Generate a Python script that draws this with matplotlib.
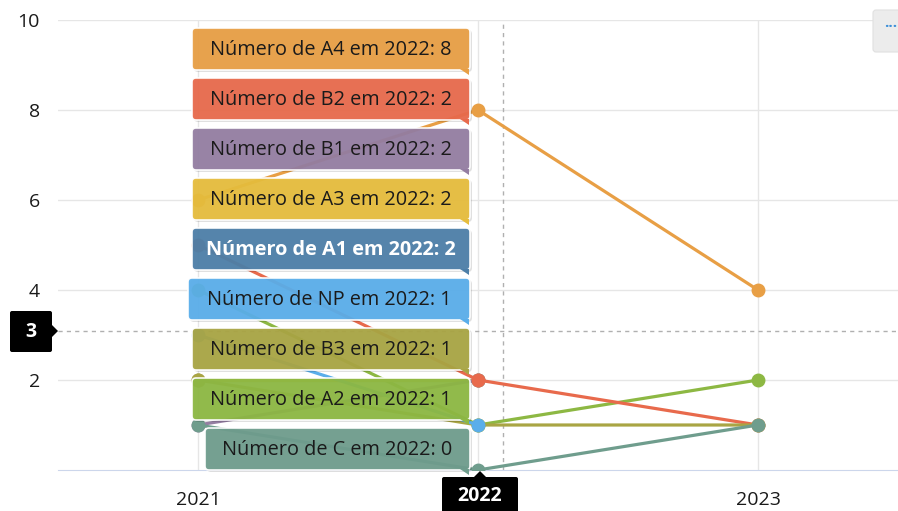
import matplotlib
matplotlib.use("Agg")
import matplotlib.pyplot as plt
from matplotlib.patches import FancyBboxPatch, Polygon

plt.rcParams["font.family"] = ["Open Sans", "DejaVu Sans"]

# ── Data ────────────────────────────────────────────────────────────────────
YEARS = ["2021", "2022", "2023"]
A1 = [2, 2, None]
A2 = [4, 1, 2]
A3 = [2, 2, None]
A4 = [6, 8, 4]
B1 = [1, 2, None]
B2 = [5, 2, 1]
B3 = [2, 1, 1]
C = [1, 0, 1]
NP = [3, 1, None]

SERIES_NAMES = ["A1", "A2", "A3", "A4", "B1", "B2", "B3", "C", "NP"]
SERIES_VALUES = [A1, A2, A3, A4, B1, B2, B3, C, NP]
SERIES_COLORS = ["#4d7fa8", "#8db843", "#e6bd3d", "#e89f45", "#947ea2",
                 "#e86a4c", "#a9a544", "#6f9d8d", "#5aaeea"]

TOOLTIP_ORDER = ["A4", "B2", "B1", "A3", "A1", "NP", "B3", "A2", "C"]
HOVER_IDX = 1
CROSSHAIR_X = 1.09
CROSSHAIR_Y = 3.09

W, H = 898, 511
fig = plt.figure(figsize=(W / 100, H / 100), dpi=100)
ax = fig.add_axes([58 / W, (H - 470) / H, (W - 58) / W, 450 / H])
T = fig.dpi_scale_trans


def inch(x, y):
    return x / 100, (H - y) / 100


x = list(range(len(YEARS)))
for i, (name, vals, col) in enumerate(zip(SERIES_NAMES, SERIES_VALUES, SERIES_COLORS)):
    xs = [xi for xi, v in zip(x, vals) if v is not None]
    ys = [v for v in vals if v is not None]
    ax.plot(xs, ys, color=col, lw=2.3, marker="o", ms=9, mec=col,
            solid_capstyle="round", zorder=3 + i * 0.01)

ax.set_xlim(-0.5, 2.5)
ax.set_ylim(0, 10)
ax.set_yticks([2, 4, 6, 8, 10])
ax.set_xticks(x)
ax.set_xticklabels(YEARS)
ax.get_xticklabels()[HOVER_IDX].set_visible(False)
ax.grid(True, color="#e6e6e6", lw=1, zorder=0)
for s in ["top", "right", "left"]:
    ax.spines[s].set_visible(False)
ax.spines["bottom"].set_color("#ccd6eb")
ax.tick_params(length=0, labelsize=14, colors="#1a1a1a")
ax.tick_params(axis="x", pad=15)
ax.tick_params(axis="y", pad=13)

# crosshairs
ax.axvline(CROSSHAIR_X, color="#b0b0b0", lw=1, ls=(0, (3, 3)), zorder=2)
ax.axhline(CROSSHAIR_Y, color="#b0b0b0", lw=1, ls=(0, (3, 3)), zorder=2)

# ── Split tooltip ───────────────────────────────────────────────────────────
box_top = 28
step = 50
box_h = 42
for k, name in enumerate(TOOLTIP_ORDER):
    idx = SERIES_NAMES.index(name)
    col = SERIES_COLORS[idx]
    val = SERIES_VALUES[idx][HOVER_IDX]
    y0 = box_top + k * step
    x0 = 192
    if name == "NP":
        x0 = 188
    if name == "C":
        x0 = 205
    x1 = 470
    shadow = FancyBboxPatch(inch(x0 + 2, y0 + box_h + 2), (x1 - x0) / 100, box_h / 100,
                            boxstyle="round,pad=0,rounding_size=0.04", transform=T,
                            fc="#000000", ec="none", alpha=0.12, zorder=9)
    fig.add_artist(shadow)
    box = FancyBboxPatch(inch(x0, y0 + box_h), (x1 - x0) / 100, box_h / 100,
                         boxstyle="round,pad=0,rounding_size=0.04", transform=T,
                         fc=col, ec="white", lw=1.2, alpha=0.95, zorder=10)
    fig.add_artist(box)
    tail = Polygon([inch(460, y0 + box_h - 1), inch(469, y0 + box_h - 1),
                    inch(469, y0 + box_h + 5)], closed=True, transform=T,
                   fc=col, ec="none", zorder=10)
    fig.add_artist(tail)
    tc = "white" if name == "A1" else "#1a1a1a"
    fig.text((x0 + x1) / 2 / W, 1 - (y0 + box_h / 2 + 1) / H,
             f"Número de {name} em {YEARS[HOVER_IDX]}: {val}",
             ha="center", va="center", fontsize=14.3, color=tc,
             fontweight="bold" if name == "A1" else "normal", zorder=11)

# crosshair labels
ybox = FancyBboxPatch(inch(10, 352), 42 / 100, 41 / 100,
                      boxstyle="round,pad=0,rounding_size=0.02", transform=T,
                      fc="black", ec="none", zorder=10)
fig.add_artist(ybox)
fig.add_artist(Polygon([inch(51, 324), inch(58, 331), inch(51, 338)], closed=True,
                       transform=T, fc="black", ec="none", zorder=10))
fig.text(31 / W, 1 - 332 / H, "3", color="white", fontsize=14, fontweight="bold",
         ha="center", va="center", zorder=11)

xbox = FancyBboxPatch(inch(442, 515), 76 / 100, 38 / 100,
                      boxstyle="round,pad=0,rounding_size=0.02", transform=T,
                      fc="black", ec="none", zorder=10)
fig.add_artist(xbox)
fig.add_artist(Polygon([inch(473, 478), inch(480, 471), inch(487, 478)], closed=True,
                       transform=T, fc="black", ec="none", zorder=10))
fig.text(480 / W, 1 - 496 / H, "2022", color="white", fontsize=14, fontweight="bold",
         ha="center", va="center", zorder=11)

# export menu button
menu = FancyBboxPatch(inch(873, 52), 40 / 100, 42 / 100,
                      boxstyle="round,pad=0,rounding_size=0.03", transform=T,
                      fc="#ececec", ec="#e0e0e0", lw=0.8, zorder=10)
fig.add_artist(menu)
fig.text(891 / W, 1 - 27 / H, "···", color="#3d8fd8", fontsize=11, fontweight="bold",
         ha="center", va="center", zorder=11)

fig.savefig("out.png", dpi=100)
